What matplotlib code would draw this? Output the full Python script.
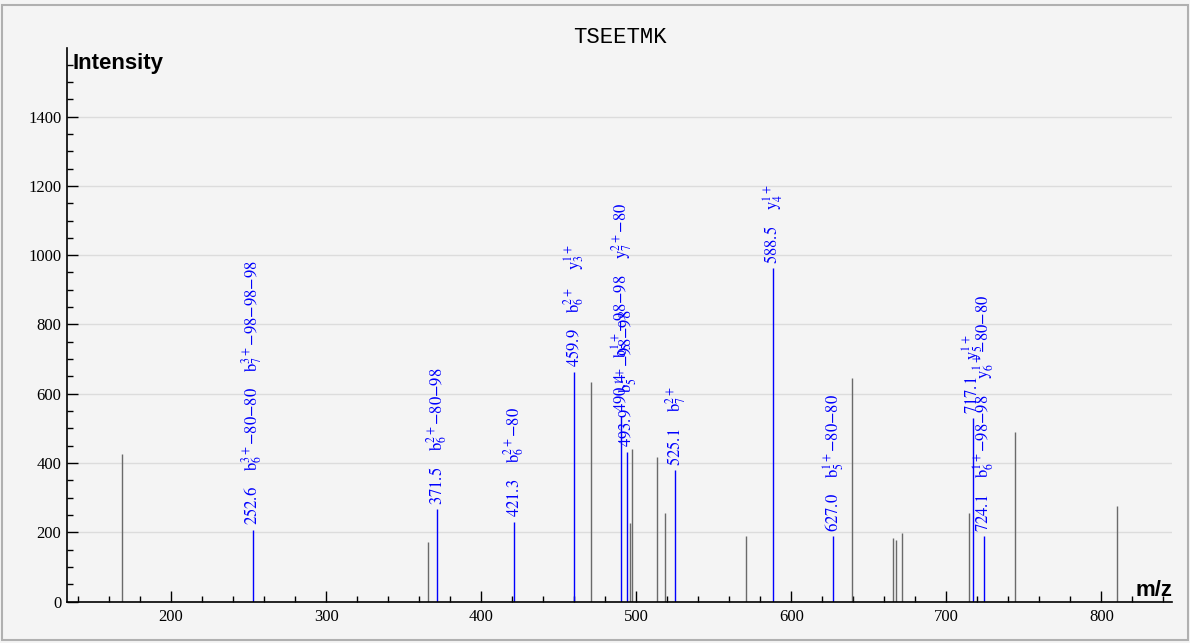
import matplotlib
matplotlib.use('Agg')
import matplotlib.pyplot as plt
from matplotlib.ticker import MultipleLocator
from matplotlib.patches import Rectangle

plt.rcParams['mathtext.fontset'] = 'stix'

title = 'TSEETMK'

# annotated (matched) peaks
ann_mz = [252.6, 371.5, 421.3, 459.9, 490.4, 493.9, 525.1, 588.5, 627.0, 717.1, 724.1]
ann_int = [208, 267, 231, 664, 536, 433, 380, 962, 190, 529, 190]
ann_ions = [
    ['b$_6^{3+}$\u221280\u221280', 'b$_7^{3+}$\u221298\u221298\u221298'],
    ['b$_6^{2+}$\u221280\u221298'],
    ['b$_6^{2+}$\u221280'],
    ['b$_6^{2+}$', 'y$_3^{1+}$'],
    ['b$_5^{1+}$\u221298\u221298', 'y$_7^{2+}$\u221280'],
    ['b$_5^{1+}$\u221298\u221298'],
    ['b$_7^{2+}$'],
    ['y$_4^{1+}$'],
    ['b$_5^{1+}$\u221280\u221280'],
    ['y$_5^{1+}$'],
    ['b$_6^{1+}$\u221298\u221298', 'y$_6^{1+}$\u221280\u221280'],
]

# unmatched peaks
other_mz = [168.6, 365.5, 470.8, 496.0, 497.5, 513.6, 518.5, 570.8, 638.9,
            665.8, 667.5, 671.2, 714.6, 744.2, 809.8]
other_int = [426, 171, 635, 228, 441, 416, 257, 190, 645,
             183, 178, 197, 257, 491, 277]

bg = '#f4f4f4'
fig = plt.figure(figsize=(11.9, 6.43), dpi=100, facecolor=bg)
ax = fig.add_axes([67 / 1190, 1 - 601.6 / 643, (1172 - 67) / 1190, (601.6 - 48) / 643])
ax.set_facecolor(bg)

ax.vlines(other_mz, 0, other_int, color='#6a6a6a', lw=1.0)
ax.vlines(ann_mz, 0, ann_int, color='#0000ff', lw=1.0)

gap = '    '
for mz, h, ions in zip(ann_mz, ann_int, ann_ions):
    label = gap.join([f'{mz:.1f}'] + ions)
    ax.annotate(label, xy=(mz, h), xytext=(0, 3), textcoords='offset points',
                rotation=90, ha='center', va='bottom', color='#0000ff',
                fontsize=12, family='STIXGeneral')

ax.set_xlim(132.9, 845.5)
ax.set_ylim(0, 1598)

for s in ['top', 'right']:
    ax.spines[s].set_visible(False)
for s in ['left', 'bottom']:
    ax.spines[s].set_linewidth(1.2)
    ax.spines[s].set_color('black')

ax.xaxis.set_major_locator(MultipleLocator(100))
ax.xaxis.set_minor_locator(MultipleLocator(20))
ax.yaxis.set_major_locator(MultipleLocator(200))
ax.yaxis.set_minor_locator(MultipleLocator(50))
ax.tick_params(axis='x', which='major', direction='in', length=8, width=1, pad=5)
ax.tick_params(axis='x', which='minor', direction='in', length=4.5, width=1)
ax.tick_params(axis='y', which='major', direction='in', length=8, width=1, pad=4)
ax.tick_params(axis='y', which='minor', direction='in', length=4, width=1)
for lab in ax.get_xticklabels() + ax.get_yticklabels():
    lab.set_family('Liberation Serif')
    lab.set_fontsize(12)

ax.yaxis.grid(True, color='#dcdcdc', lw=1)
ax.set_axisbelow(True)

fig.text(620 / 1190, 1 - 43.3 / 643, title, family='Liberation Mono',
         fontsize=16, ha='center', va='baseline')
fig.text(73 / 1190, 1 - 69 / 643, 'Intensity', family='Liberation Sans',
         fontweight='bold', fontsize=16, ha='left', va='baseline')
fig.text(1172 / 1190, 1 - 596 / 643, 'm/z', family='Liberation Sans',
         fontweight='bold', fontsize=16, ha='right', va='baseline')

fig.patches.append(Rectangle((0.002, 0.004), 0.996, 0.989, transform=fig.transFigure,
                             fill=False, edgecolor='#b0b0b0', lw=1.5))

fig.savefig('out.png', dpi=100, facecolor=bg)
